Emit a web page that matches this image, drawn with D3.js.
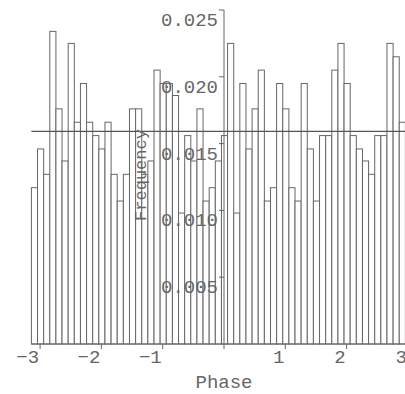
<!DOCTYPE html>
<html>
<head>
<meta charset="utf-8">
<script src="https://cdn.jsdelivr.net/npm/d3@7"></script>
<style>
	body { margin: 0; background: #fff; }
	svg { display: block; }
	text { font-family: "Liberation Mono", "DejaVu Sans Mono", monospace; fill: #666; }
</style>
</head>
<body>
<svg id="chart" width="405" height="394"></svg>
<script>
'use strict';

// bin width of the phase histogram (radians), bins start at -pi
const binWidth = 0.1;

// relative frequency of each bin, left to right
const frequencies = [
	0.0117, 0.0146, 0.0127, 0.0234, 0.0176, 0.0137, 0.0225, 0.0166, 0.0195, 0.0166,
	0.0156, 0.0146, 0.0166, 0.0127, 0.0107, 0.0127, 0.0176, 0.0176, 0.0127, 0.0137,
	0.0205, 0.0195, 0.0195, 0.0186, 0.0098, 0.0156, 0.0137, 0.0176, 0.0107, 0.0117,
	0.0137, 0.0156, 0.0225, 0.0098, 0.0195, 0.0146, 0.0176, 0.0205, 0.0107, 0.0117,
	0.0195, 0.0176, 0.0117, 0.0107, 0.0195, 0.0146, 0.0107, 0.0156, 0.0156, 0.0205,
	0.0225, 0.0195, 0.0156, 0.0146, 0.0137, 0.0127, 0.0156, 0.0156, 0.0225, 0.0215,
	0.0166
];

// expected frequency for a uniform phase
const uniformLevel = binWidth / (2 * Math.PI);

const xTicks = [-3, -2, -1, 0, 1, 2, 3];
const yTicks = [0.005, 0.010, 0.015, 0.020, 0.025];

const svg = d3.select('#chart');

const x = d3.scaleLinear()
	.domain([-Math.PI, Math.PI])
	.range([31.4, 416.6]);
const y = d3.scaleLinear()
	.domain([0, 0.025])
	.range([344, 10]);

const bins = frequencies.map((f, i) => {
	return {x0: -Math.PI + i * binWidth, x1: -Math.PI + (i + 1) * binWidth, value: f};
});

// bars
svg.append('g')
	.selectAll('rect')
	.data(bins)
	.enter().append('rect')
		.attr('x', d => x(d.x0))
		.attr('y', d => y(d.value))
		.attr('width', d => x(d.x1) - x(d.x0))
		.attr('height', d => y(0) - y(d.value))
		.attr('fill', '#fff')
		.attr('stroke', '#666')
		.attr('stroke-width', 1)
	;

// uniform reference line
svg.append('line')
	.attr('x1', x(-Math.PI))
	.attr('x2', 405)
	.attr('y1', y(uniformLevel))
	.attr('y2', y(uniformLevel))
	.attr('stroke', '#555')
	.attr('stroke-width', 1.2);

// x axis: ticks hang below baseline, labels right aligned to the tick
const xAxis = svg.append('g');
xAxis.append('line')
	.attr('x1', x(-Math.PI)).attr('x2', 405)
	.attr('y1', y(0)).attr('y2', y(0))
	.attr('stroke', '#666');
xAxis.selectAll('line.tick')
	.data(xTicks)
	.enter().append('line')
		.attr('class', 'tick')
		.attr('x1', d => x(d)).attr('x2', d => x(d))
		.attr('y1', y(0)).attr('y2', y(0) + 5)
		.attr('stroke', '#666');
xAxis.selectAll('text')
	.data(xTicks.filter(d => d !== 0))
	.enter().append('text')
		.attr('x', d => x(d) - 1)
		.attr('y', y(0) + 19)
		.attr('text-anchor', 'end')
		.attr('font-size', 19)
		.text(d => d < 0 ? '\u2212' + Math.abs(d) : d);

// y axis drawn at phase 0
const yAxis = svg.append('g');
yAxis.append('line')
	.attr('x1', x(0)).attr('x2', x(0))
	.attr('y1', y(0.025)).attr('y2', y(0))
	.attr('stroke', '#666');
yAxis.selectAll('line.tick')
	.data(yTicks)
	.enter().append('line')
		.attr('class', 'tick')
		.attr('x1', x(0) - 5).attr('x2', x(0))
		.attr('y1', d => y(d)).attr('y2', d => y(d))
		.attr('stroke', '#666');
yAxis.selectAll('text')
	.data(yTicks)
	.enter().append('text')
		.attr('x', x(0) - 6)
		.attr('y', d => y(d) + 16)
		.attr('text-anchor', 'end')
		.attr('font-size', 19)
		.text(d => d3.format('.3f')(d));

// axis titles
svg.append('text')
	.attr('x', x(0))
	.attr('y', 388)
	.attr('text-anchor', 'middle')
	.attr('font-size', 19)
	.text('Phase');
svg.append('text')
	.attr('transform', 'translate(146,175) rotate(-90)')
	.attr('text-anchor', 'middle')
	.attr('font-size', 17)
	.text('Frequency');
</script>
</body>
</html>
